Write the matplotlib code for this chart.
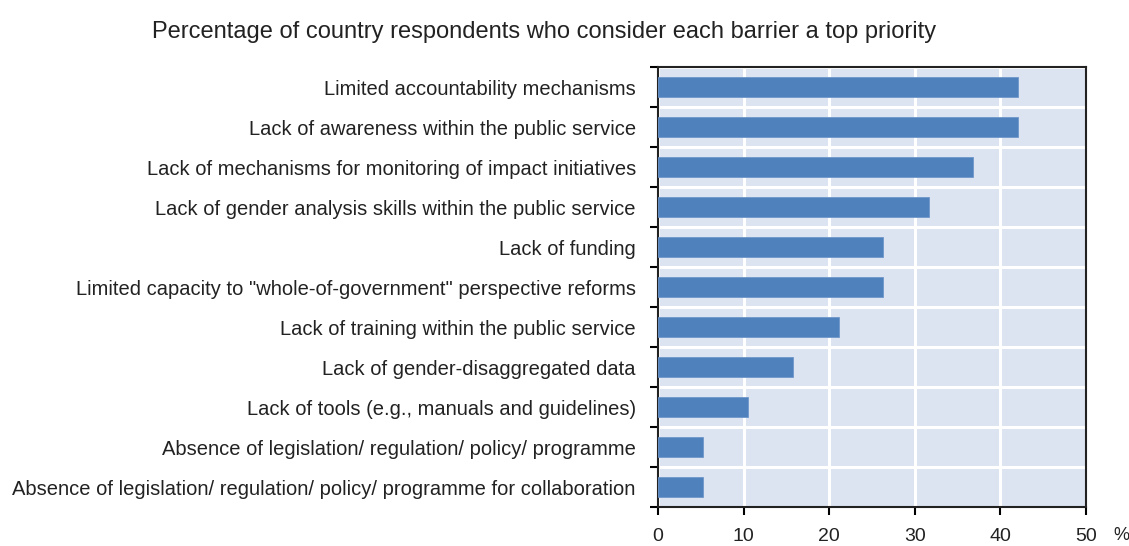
import numpy as np
import matplotlib
matplotlib.use("Agg")
import matplotlib.pyplot as plt

# Datos (de arriba hacia abajo)
barriers = [
    "Limited accountability mechanisms",
    "Lack of awareness within the public service",
    "Lack of mechanisms for monitoring of impact initiatives",
    "Lack of gender analysis skills within the public service",
    "Lack of funding",
    'Limited capacity to "whole-of-government" perspective reforms',
    "Lack of training within the public service",
    "Lack of gender-disaggregated data",
    "Lack of tools (e.g., manuals and guidelines)",
    "Absence of legislation/ regulation/ policy/ programme",
    "Absence of legislation/ regulation/ policy/ programme for collaboration",
]
percent = [42.1, 42.1, 36.8, 31.6, 26.3, 26.3, 21.1, 15.8, 10.5, 5.3, 5.3]
x_ticks = [0, 10, 20, 30, 40, 50]

plt.rcParams["font.family"] = ["Liberation Sans", "DejaVu Sans"]

fig = plt.figure(figsize=(11.29, 5.46), dpi=100)
ax = fig.add_axes([0.5828, 0.0714, 0.3792, 0.8056])

n = len(barriers)
y = np.arange(n)
ax.set_facecolor("#dde4f1")
ax.barh(y, percent, height=0.5, color="#4f81bd", edgecolor="#6f97cc", linewidth=0.6, zorder=3)

ax.set_xlim(0, 50)
ax.set_ylim(n - 0.5, -0.5)
ax.set_xticks(x_ticks)
ax.set_xticklabels([str(t) for t in x_ticks], fontsize=14, color="#222222")
ax.set_yticks(y)
ax.set_yticklabels(barriers, fontsize=14.5, color="#222222")
ax.tick_params(axis="y", which="major", length=0, pad=16)
ax.set_yticks(np.arange(-0.5, n, 1.0), minor=True)
ax.tick_params(axis="y", which="minor", length=6, width=1.5, direction="out")
ax.tick_params(axis="x", which="major", length=6, width=1.5, direction="out", pad=9)

ax.grid(axis="x", color="white", linewidth=2.2, zorder=1)
ax.grid(axis="y", which="minor", color="white", linewidth=2.2, zorder=1)
ax.set_axisbelow(True)
for s in ax.spines.values():
    s.set_linewidth(1.5)
    s.set_color("#222222")

ax.text(1.083, -0.085, "%", transform=ax.transAxes, fontsize=13, color="#222222",
        ha="center", va="bottom")
fig.text(0.4818, 0.941, "Percentage of country respondents who consider each barrier a top priority",
         fontsize=17, color="#222222", ha="center", va="center")

fig.savefig("out.png", dpi=100)
